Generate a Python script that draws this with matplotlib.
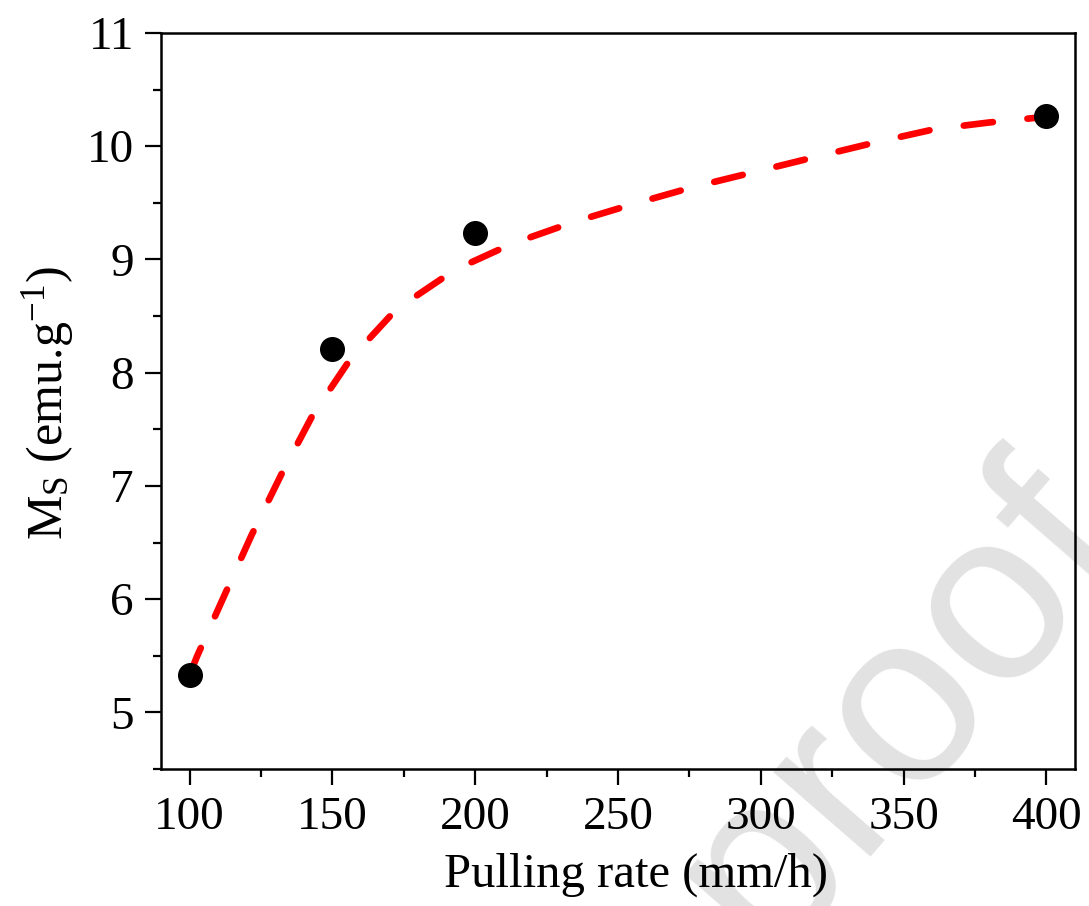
import matplotlib
matplotlib.use("Agg")
import matplotlib.pyplot as plt
from matplotlib.ticker import MultipleLocator

# measured points
rate = [100, 150, 200, 400]
ms = [5.33, 8.21, 9.23, 10.27]

# dashed fit curve
fit_x = [100, 102.7, 111.6, 121.6, 132.1, 143.2, 156.3, 172.4, 193.0, 213.0,
         234.4, 255.4, 276.4, 297.4, 318.3, 339.5, 360.7, 380.0, 400.0]
fit_y = [5.33, 5.50, 6.00, 6.56, 7.10, 7.63, 8.12, 8.56, 8.91, 9.14,
         9.33, 9.49, 9.64, 9.77, 9.90, 10.03, 10.15, 10.21, 10.26]

xticks = [100, 150, 200, 250, 300, 350, 400]
yticks = [5, 6, 7, 8, 9, 10, 11]

plt.rcParams['font.family'] = ['Liberation Serif', 'DejaVu Serif']
plt.rcParams['mathtext.fontset'] = 'custom'
plt.rcParams['mathtext.rm'] = 'Liberation Serif'
plt.rcParams['mathtext.it'] = 'Liberation Serif:italic'

fig = plt.figure(figsize=(10.89, 9.06), dpi=100)
ax = fig.add_axes([161/1089, 1-769/906, (1075-161)/1089, (769-33)/906])
ax.patch.set_alpha(0)

ax.plot(fit_x, fit_y, color='#ff0000', lw=4.8, dashes=(4.4, 5.2),
        dash_capstyle='round', solid_capstyle='round', zorder=2)
ax.plot(rate, ms, 'o', color='black', ms=17, zorder=3)

ax.set_xlim(90, 410)
ax.set_ylim(4.5, 11)
ax.set_xticks(xticks)
ax.set_yticks(yticks)
ax.xaxis.set_minor_locator(MultipleLocator(25))
ax.yaxis.set_minor_locator(MultipleLocator(0.5))
ax.tick_params(which='both', direction='out', top=False, right=False,
               width=1.6, labelsize=34, pad=8)
ax.tick_params(which='major', length=11.5)
ax.tick_params(which='minor', length=6)
for s in ax.spines.values():
    s.set_linewidth(1.8)

ax.set_xlabel('Pulling rate (mm/h)', fontsize=35)
ax.xaxis.set_label_coords((636-161)/914, -(853-769)/736)
ax.set_ylabel(r'M$_\mathrm{S}$ (emu.g$^{-1}$)', fontsize=36)
ax.yaxis.set_label_coords(-(161-76)/914, (769-403)/736)

fig.text(1135/1089, 1-552/906, 'Journal Pre-proof', fontsize=175,
         family='Liberation Sans', color='#e2e2e2', rotation=49,
         rotation_mode='anchor', ha='right', va='baseline', zorder=-1)

fig.savefig('out.png', dpi=100)
